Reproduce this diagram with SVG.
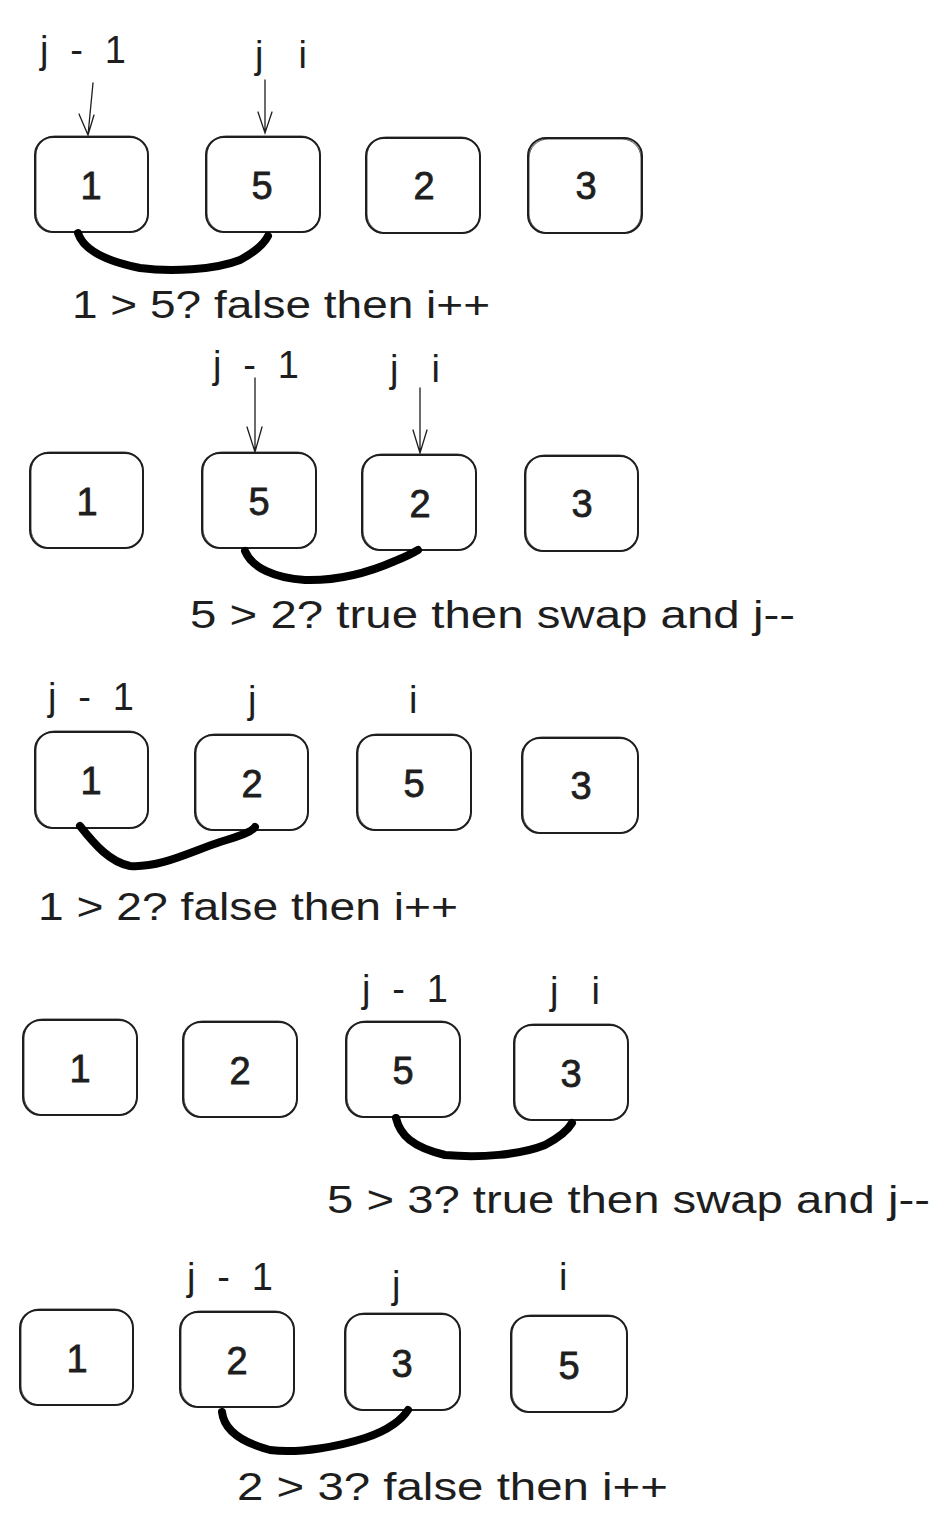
<svg xmlns="http://www.w3.org/2000/svg" width="952" height="1533" viewBox="0 0 952 1533">
<style>
.bx{fill:none;stroke:#1e1e1e;stroke-width:2}
.bx2{fill:none;stroke:#1e1e1e;stroke-width:1;opacity:.8}
.num{font-family:"Liberation Sans",sans-serif;font-size:38px;fill:#1e1e1e;stroke:#1e1e1e;stroke-width:0.8;text-anchor:middle}
.lbl{font-family:"Liberation Sans",sans-serif;font-size:38px;fill:#1e1e1e}
.cap{font-family:"Liberation Sans",sans-serif;font-size:38px;fill:#1e1e1e}
.arr{fill:none;stroke:#1e1e1e;stroke-width:1.3;stroke-linecap:round}
.thk{fill:none;stroke:#000;stroke-width:8;stroke-linecap:round;stroke-linejoin:round}
</style>
<rect width="952" height="1533" fill="#fff"/>

<!-- Row 1 -->
<g id="r1-a"><rect class="bx" x="35" y="137" width="113" height="95" rx="18"/><rect class="bx2" x="36" y="136" width="112" height="96" rx="19"/><text class="num" x="91" y="199">1</text></g>
<g id="r1-b"><rect class="bx" x="206" y="137" width="114" height="95" rx="18"/><rect class="bx2" x="207" y="136" width="113" height="96" rx="19"/><text class="num" x="262" y="199">5</text></g>
<g id="r1-c"><rect class="bx" x="366" y="138" width="114" height="95" rx="18"/><rect class="bx2" x="367" y="137" width="113" height="96" rx="19"/><text class="num" x="424" y="199">2</text></g>
<g id="r1-d"><rect class="bx" x="528" y="138" width="114" height="95" rx="18"/><rect class="bx2" x="529" y="139" width="112" height="94" rx="19"/><text class="num" x="586" y="199">3</text></g>
<g id="r1-l1"><text class="lbl" x="40" y="63" textLength="86" lengthAdjust="spacing">j - 1</text></g>
<g id="r1-l2"><text class="lbl" x="255" y="68" textLength="52" lengthAdjust="spacing">j i</text></g>
<g id="r1-cap"><text class="cap" x="72" y="318" textLength="418" lengthAdjust="spacingAndGlyphs">1 &gt; 5? false then i++</text></g>

<!-- Row 2 -->
<g id="r2-a"><rect class="bx" x="30" y="453" width="113" height="95" rx="18"/><rect class="bx2" x="31" y="452" width="112" height="96" rx="19"/><text class="num" x="87" y="515">1</text></g>
<g id="r2-b"><rect class="bx" x="202" y="453" width="114" height="95" rx="18"/><rect class="bx2" x="203" y="452" width="113" height="96" rx="19"/><text class="num" x="259" y="515">5</text></g>
<g id="r2-c"><rect class="bx" x="362" y="455" width="114" height="95" rx="18"/><rect class="bx2" x="363" y="454" width="113" height="96" rx="19"/><text class="num" x="420" y="517">2</text></g>
<g id="r2-d"><rect class="bx" x="525" y="456" width="113" height="95" rx="18"/><rect class="bx2" x="526" y="455" width="112" height="96" rx="19"/><text class="num" x="582" y="517">3</text></g>
<g id="r2-l1"><text class="lbl" x="213" y="378" textLength="86" lengthAdjust="spacing">j - 1</text></g>
<g id="r2-l2"><text class="lbl" x="390" y="382" textLength="50" lengthAdjust="spacing">j i</text></g>
<g id="r2-cap"><text class="cap" x="190" y="628" textLength="605" lengthAdjust="spacingAndGlyphs">5 &gt; 2? true then swap and j--</text></g>

<!-- Row 3 -->
<g id="r3-a"><rect class="bx" x="35" y="732" width="113" height="96" rx="18"/><rect class="bx2" x="36" y="731" width="112" height="97" rx="19"/><text class="num" x="91" y="794">1</text></g>
<g id="r3-b"><rect class="bx" x="195" y="735" width="113" height="95" rx="18"/><rect class="bx2" x="196" y="734" width="112" height="96" rx="19"/><text class="num" x="252" y="797">2</text></g>
<g id="r3-c"><rect class="bx" x="357" y="735" width="114" height="95" rx="18"/><rect class="bx2" x="358" y="734" width="113" height="96" rx="19"/><text class="num" x="414" y="797">5</text></g>
<g id="r3-d"><rect class="bx" x="522" y="738" width="116" height="95" rx="18"/><rect class="bx2" x="523" y="737" width="115" height="96" rx="19"/><text class="num" x="581" y="799">3</text></g>
<g id="r3-l1"><text class="lbl" x="48" y="710" textLength="86" lengthAdjust="spacing">j - 1</text></g>
<g id="r3-l2"><text class="lbl" x="248" y="713">j</text></g>
<g id="r3-l3"><text class="lbl" x="409" y="713">i</text></g>
<g id="r3-cap"><text class="cap" x="38" y="920" textLength="420" lengthAdjust="spacingAndGlyphs">1 &gt; 2? false then i++</text></g>

<!-- Row 4 -->
<g id="r4-a"><rect class="bx" x="23" y="1020" width="114" height="95" rx="18"/><rect class="bx2" x="24" y="1019" width="113" height="96" rx="19"/><text class="num" x="80" y="1082">1</text></g>
<g id="r4-b"><rect class="bx" x="183" y="1022" width="114" height="95" rx="18"/><rect class="bx2" x="184" y="1021" width="113" height="96" rx="19"/><text class="num" x="240" y="1084">2</text></g>
<g id="r4-c"><rect class="bx" x="346" y="1022" width="114" height="95" rx="18"/><rect class="bx2" x="347" y="1021" width="113" height="96" rx="19"/><text class="num" x="403" y="1084">5</text></g>
<g id="r4-d"><rect class="bx" x="514" y="1025" width="114" height="95" rx="18"/><rect class="bx2" x="515" y="1024" width="113" height="96" rx="19"/><text class="num" x="571" y="1087">3</text></g>
<g id="r4-l1"><text class="lbl" x="362" y="1002" textLength="86" lengthAdjust="spacing">j - 1</text></g>
<g id="r4-l2"><text class="lbl" x="550" y="1004" textLength="50" lengthAdjust="spacing">j i</text></g>
<g id="r4-cap"><text class="cap" x="327" y="1213" textLength="603" lengthAdjust="spacingAndGlyphs">5 &gt; 3? true then swap and j--</text></g>

<!-- Row 5 -->
<g id="r5-a"><rect class="bx" x="20" y="1310" width="113" height="95" rx="18"/><rect class="bx2" x="21" y="1309" width="112" height="96" rx="19"/><text class="num" x="77" y="1372">1</text></g>
<g id="r5-b"><rect class="bx" x="180" y="1312" width="114" height="95" rx="18"/><rect class="bx2" x="181" y="1311" width="113" height="96" rx="19"/><text class="num" x="237" y="1374">2</text></g>
<g id="r5-c"><rect class="bx" x="345" y="1314" width="115" height="96" rx="18"/><rect class="bx2" x="346" y="1313" width="114" height="97" rx="19"/><text class="num" x="402" y="1377">3</text></g>
<g id="r5-d"><rect class="bx" x="511" y="1316" width="116" height="96" rx="18"/><rect class="bx2" x="512" y="1315" width="115" height="97" rx="19"/><text class="num" x="569" y="1379">5</text></g>
<g id="r5-l1"><text class="lbl" x="187" y="1290" textLength="86" lengthAdjust="spacing">j - 1</text></g>
<g id="r5-l2"><text class="lbl" x="392" y="1298">j</text></g>
<g id="r5-l3"><text class="lbl" x="559" y="1290">i</text></g>
<g id="r5-cap"><text class="cap" x="237" y="1500" textLength="431" lengthAdjust="spacingAndGlyphs">2 &gt; 3? false then i++</text></g>

<!-- Connectors -->
<g id="connectors">
  <path class="arr" d="M93,83 L88,135 M79,114 L88,135 L94,115"/>
  <path class="arr" d="M265,80 L265,133 M258,112 L265,133 L272,112"/>
  <path class="arr" d="M255,378 L255,452 M247,427 L255,452 L262,427"/>
  <path class="arr" d="M420,388 L420,453 M413,430 L420,453 L427,430"/>
  <path class="thk" d="M78,233 C84,252 110,262 140,268 C170,272 215,270 240,260 C255,252 264,244 268,236"/>
  <path class="thk" d="M245,551 C252,568 275,578 305,580 C340,581 370,572 395,561 C405,557 413,553 418,550"/>
  <path class="thk" d="M80,826 C95,845 110,862 130,866 C160,868 190,852 220,842 C240,836 252,832 255,827"/>
  <path class="thk" d="M396,1118 C400,1135 412,1147 445,1155 C480,1158 520,1155 545,1145 C560,1137 568,1130 572,1123"/>
  <path class="thk" d="M222,1412 C224,1430 240,1442 270,1450 C300,1454 340,1446 365,1438 C390,1430 403,1418 408,1410"/>
</g>
</svg>
